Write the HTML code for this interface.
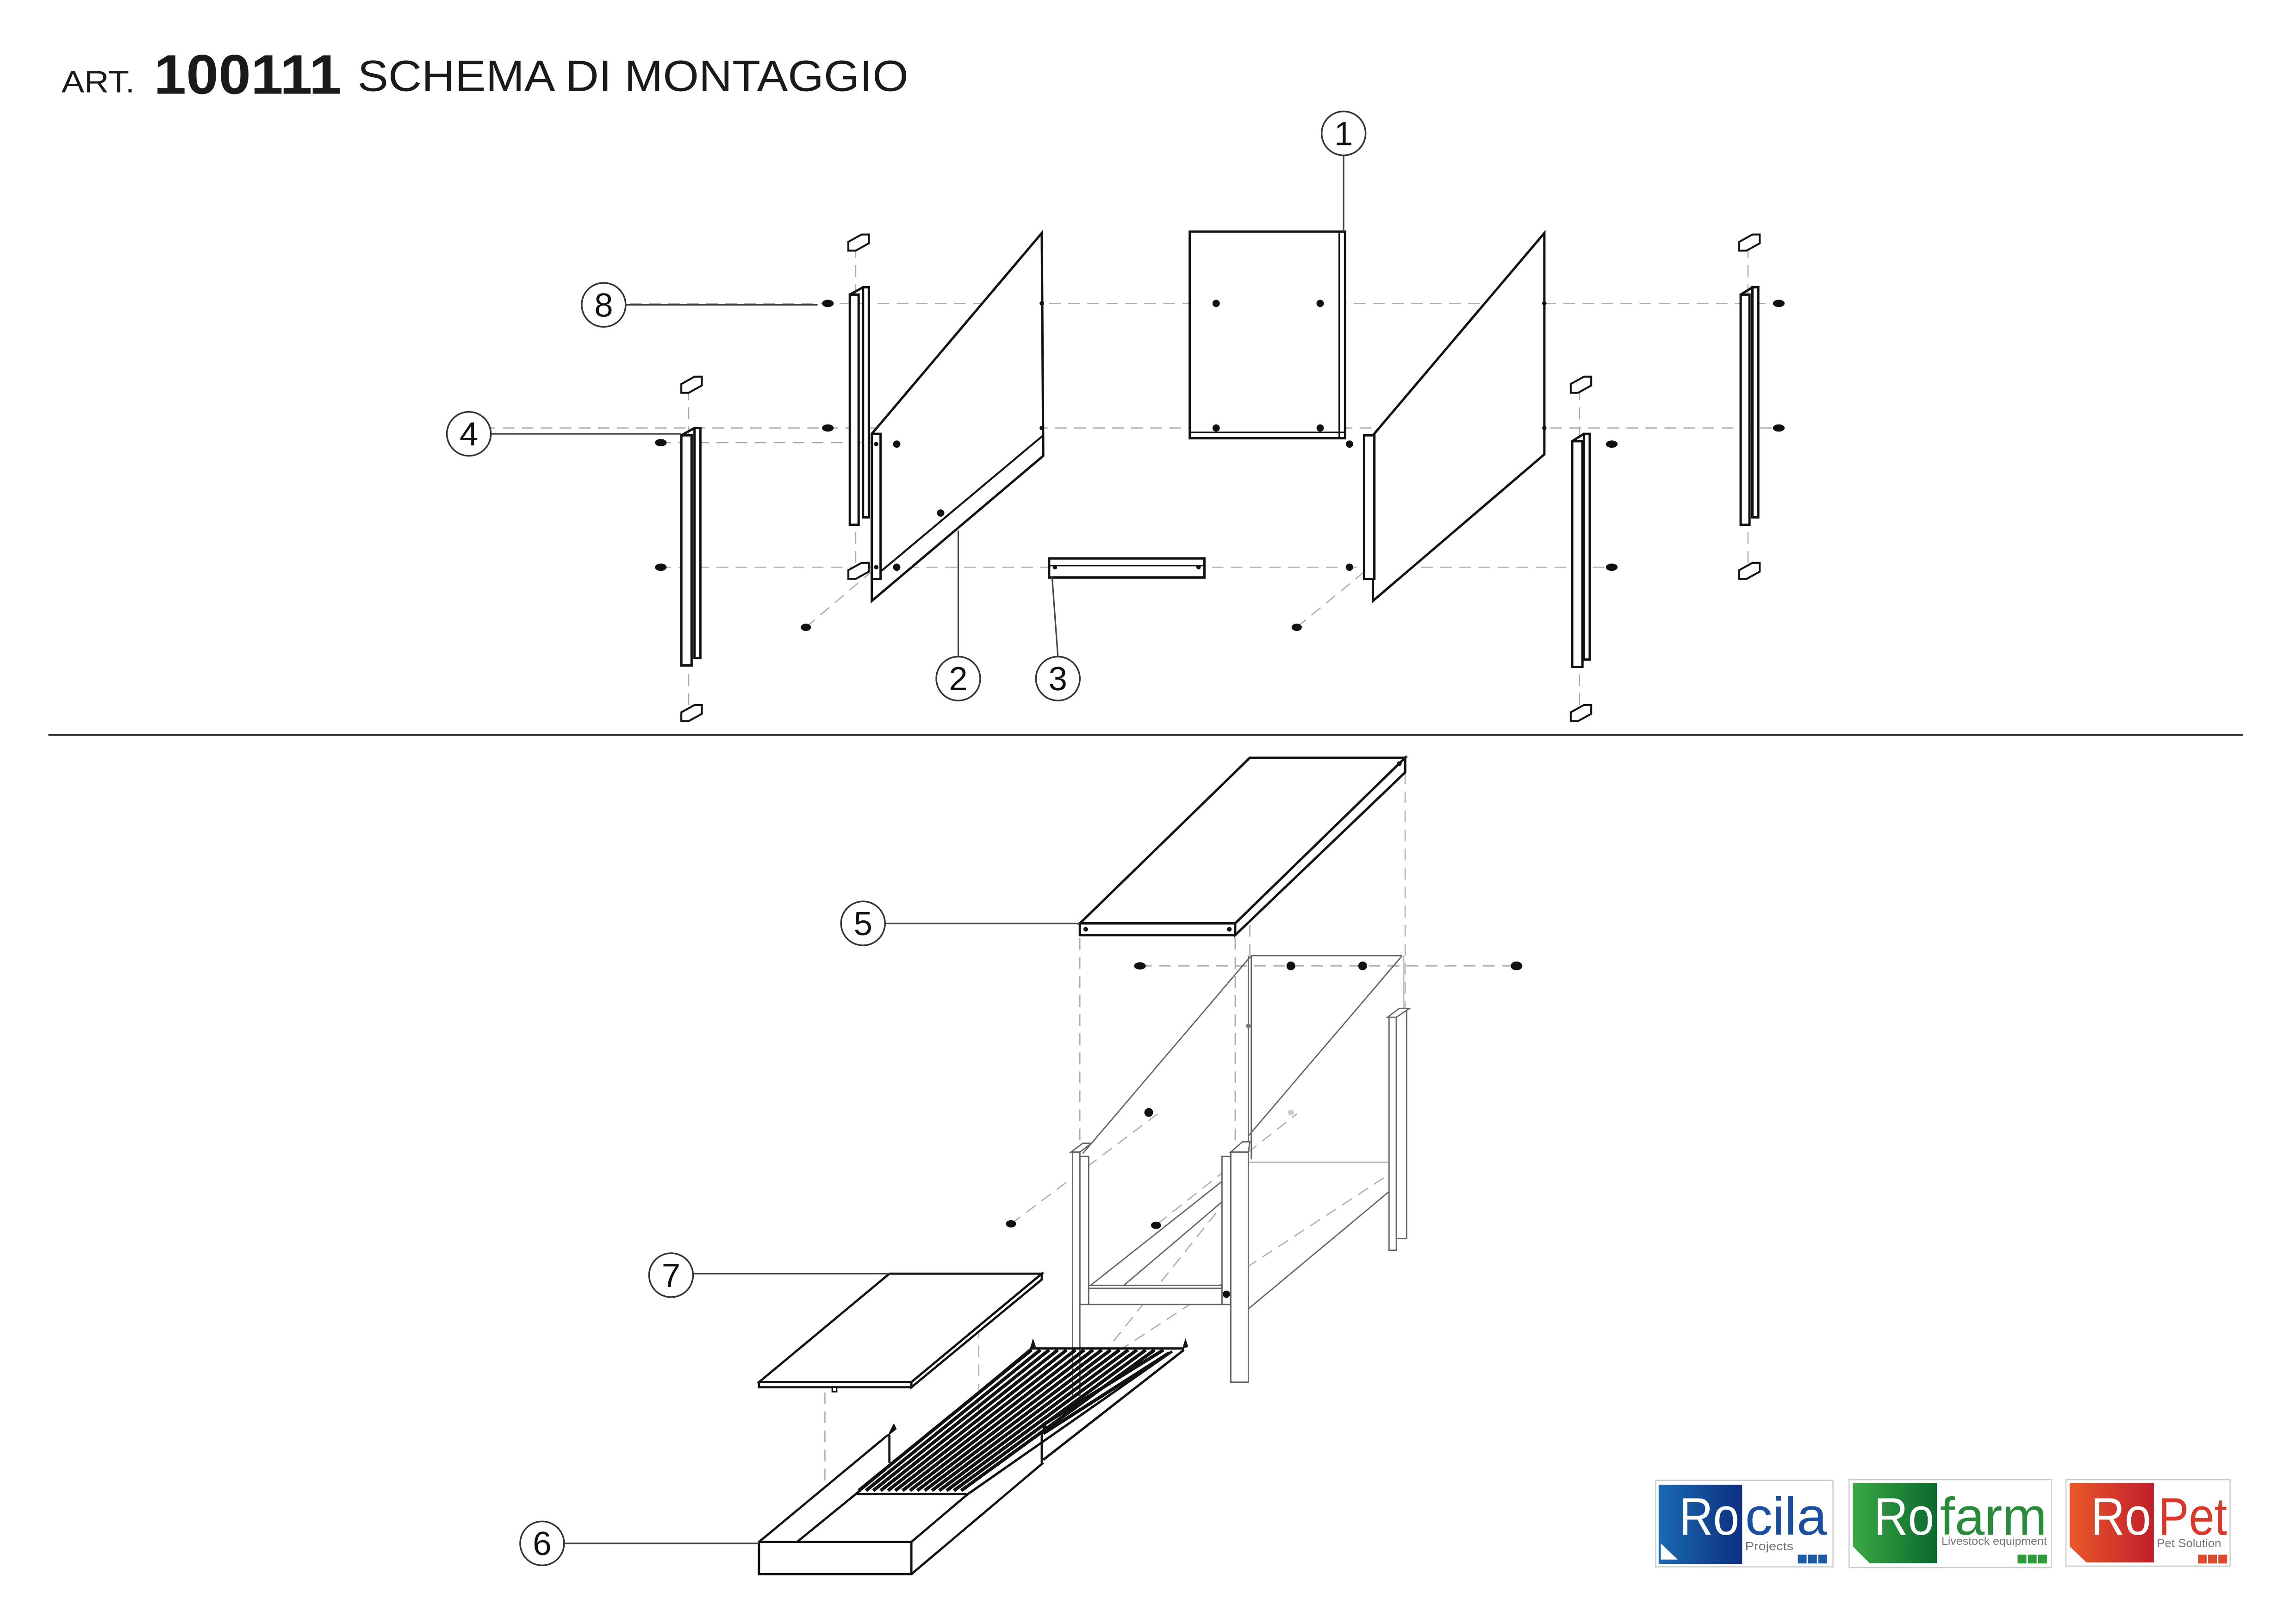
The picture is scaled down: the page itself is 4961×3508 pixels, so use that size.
<!DOCTYPE html>
<html><head><meta charset="utf-8"><style>
html,body{margin:0;padding:0;background:#fff;}
svg{display:block;}
text{font-family:"Liberation Sans",sans-serif;}
</style></head><body>
<svg width="4961" height="3508" viewBox="0 0 1567 1108" preserveAspectRatio="none" xmlns="http://www.w3.org/2000/svg">
<rect width="1567" height="1108" fill="#fff"/>
<!-- title -->
<text x="42" y="63" font-size="21" fill="#1a1a1a" textLength="50" lengthAdjust="spacingAndGlyphs">ART.</text>
<text x="105" y="64" font-size="38" font-weight="bold" fill="#1a1a1a" textLength="128" lengthAdjust="spacingAndGlyphs">100111</text>
<text x="244" y="62" font-size="30" fill="#1a1a1a" textLength="376" lengthAdjust="spacingAndGlyphs">SCHEMA DI MONTAGGIO</text>
<line x1="33" y1="501.5" x2="1531" y2="501.5" stroke="#333" stroke-width="1.2"/>

<g fill="none" stroke="#aaa" stroke-width="0.8" stroke-dasharray="8,5">
<line x1="430" y1="207" x2="1210" y2="207"/>
<line x1="330" y1="292" x2="1210" y2="292"/>
<line x1="450" y1="302" x2="600" y2="302"/>
<line x1="450" y1="387" x2="1100" y2="387"/>
<line x1="470" y1="265" x2="470" y2="485"/>
<line x1="584" y1="168" x2="584" y2="390"/>
<line x1="1078" y1="265" x2="1078" y2="485"/>
<line x1="1193" y1="168" x2="1193" y2="390"/>
<line x1="550" y1="428" x2="642" y2="350"/>
<line x1="885" y1="428" x2="980" y2="350"/>
<line x1="737" y1="640" x2="737" y2="790"/>
<line x1="843" y1="640" x2="843" y2="780"/>
<line x1="959" y1="527" x2="959" y2="690"/>
<line x1="853" y1="527" x2="853" y2="652"/>
<line x1="778" y1="659" x2="1035" y2="659"/>
<line x1="563" y1="950" x2="563" y2="1015"/>
<line x1="668" y1="905" x2="668" y2="1000"/>
<line x1="690" y1="835" x2="790" y2="760"/>
<line x1="790" y1="835" x2="885" y2="760"/>
<line x1="720" y1="950" x2="950" y2="800"/>
<line x1="760" y1="915" x2="852" y2="800"/>
</g>

<g fill="#fff" stroke="#111" stroke-width="1.6">
<rect x="812" y="158" width="106" height="141"/>
<line x1="914" y1="158" x2="914" y2="299" stroke-width="1"/>
<line x1="812" y1="295" x2="918" y2="295" stroke-width="1"/>
<polygon points="595,296 711,159 712,311 595,410"/>
<line x1="601" y1="390" x2="712" y2="297" stroke-width="1.3"/>
<rect x="595" y="296" width="6" height="99"/>
<polygon points="937,297 1054,159 1054,310 937,410"/>
<rect x="931" y="297" width="7" height="98"/>
<rect x="580" y="201" width="6" height="157"/><rect x="589" y="196" width="4" height="157"/>
<line x1="580" y1="201" x2="589" y2="196"/>
<rect x="465" y="297" width="7" height="157"/><rect x="474" y="292" width="4" height="157"/>
<line x1="465" y1="297" x2="474" y2="292"/>
<rect x="1073" y="301" width="7" height="154"/><rect x="1081" y="296" width="4" height="154"/>
<line x1="1073" y1="301" x2="1081" y2="296"/>
<rect x="1188" y="201" width="6" height="157"/><rect x="1196" y="196" width="4" height="157"/>
<line x1="1188" y1="201" x2="1196" y2="196"/>
<rect x="716" y="381" width="106" height="13"/>
<line x1="716" y1="386" x2="822" y2="386" stroke-width="0.8"/>
<g stroke-width="1.3">
<polygon points="579,165 588,160 593,160 593,166 584,171 579,171"/>
<polygon points="465,262 474,257 479,257 479,263 470,268 465,268"/>
<polygon points="579,389 588,384 593,384 593,390 584,395 579,395"/>
<polygon points="465,486 474,481 479,481 479,487 470,492 465,492"/>
<polygon points="1072,262 1081,257 1086,257 1086,263 1077,268 1072,268"/>
<polygon points="1072,486 1081,481 1086,481 1086,487 1077,492 1072,492"/>
<polygon points="1187,165 1196,160 1201,160 1201,166 1192,171 1187,171"/>
<polygon points="1187,389 1196,384 1201,384 1201,390 1192,395 1187,395"/>
</g>
</g>
<g fill="#111">
<ellipse cx="565" cy="207" rx="4" ry="2.5"/><ellipse cx="565" cy="292" rx="4" ry="2.5"/>
<ellipse cx="451" cy="302" rx="4" ry="2.5"/><ellipse cx="451" cy="387" rx="4" ry="2.5"/>
<ellipse cx="612" cy="303" rx="2.5" ry="2.5"/><ellipse cx="612" cy="387" rx="2.5" ry="2.5"/>
<ellipse cx="598" cy="303" rx="1.5" ry="1.5"/><ellipse cx="598" cy="387" rx="1.5" ry="1.5"/>
<ellipse cx="830" cy="207" rx="2.5" ry="2.5"/><ellipse cx="901" cy="207" rx="2.5" ry="2.5"/>
<ellipse cx="830" cy="292" rx="2.5" ry="2.5"/><ellipse cx="901" cy="292" rx="2.5" ry="2.5"/>
<ellipse cx="711" cy="207" rx="1.5" ry="1.5"/><ellipse cx="711" cy="292" rx="1.5" ry="1.5"/>
<ellipse cx="1054" cy="207" rx="1.5" ry="1.5"/><ellipse cx="1054" cy="292" rx="1.5" ry="1.5"/>
<ellipse cx="921" cy="303" rx="2.5" ry="2.5"/><ellipse cx="921" cy="387" rx="2.5" ry="2.5"/>
<ellipse cx="1100" cy="303" rx="4" ry="2.5"/><ellipse cx="1100" cy="387" rx="4" ry="2.5"/>
<ellipse cx="1214" cy="207" rx="4" ry="2.5"/><ellipse cx="1214" cy="292" rx="4" ry="2.5"/>
<ellipse cx="550" cy="428" rx="3.5" ry="2.5"/><ellipse cx="885" cy="428" rx="3.5" ry="2.5"/>
<ellipse cx="642" cy="350" rx="2.5" ry="2.5"/>
<ellipse cx="720" cy="387" rx="1.5" ry="1.5"/><ellipse cx="818" cy="387" rx="1.5" ry="1.5"/>
</g>

<g fill="#fff" stroke="#111" stroke-width="1.6">
<polygon points="737,630 853,517 959,517 843,630"/>
<rect x="737" y="630" width="106" height="8"/>
<polygon points="843,630 959,517 959,527 843,638"/>
</g>
<g fill="#111"><circle cx="741" cy="634" r="1.6"/><circle cx="839" cy="634" r="1.6"/><circle cx="955" cy="521" r="1.6"/></g>

<g fill="#fff" stroke="#666" stroke-width="0.9">
<line x1="854" y1="652" x2="957" y2="652"/>
<line x1="854" y1="652" x2="739" y2="787"/>
<line x1="957" y1="652" x2="852" y2="775"/>
<line x1="852" y1="652" x2="852" y2="791"/>
<line x1="854" y1="652" x2="854" y2="791"/>
<line x1="852" y1="793" x2="948" y2="793" stroke="#bbb"/>
<line x1="852" y1="893" x2="948" y2="813"/>
<line x1="958" y1="652" x2="958" y2="792" stroke="#bbb"/>
<rect x="948" y="694" width="5" height="159"/>
<rect x="953" y="690" width="7" height="155"/>
<polygon points="947,694 955,688 962,688 953,694"/>
<line x1="743" y1="878" x2="834" y2="806"/>
<line x1="767" y1="877" x2="834" y2="820"/>
<rect x="737" y="789" width="6" height="101"/>
<rect x="732" y="786" width="5" height="166"/>
<polygon points="731,786 739,780 745,780 737,786"/>
<rect x="834" y="789" width="6" height="101"/>
<rect x="840" y="786" width="12" height="157"/>
<polygon points="840,786 848,779 853,779 852,786"/>
<rect x="743" y="877" width="91" height="13"/>
<line x1="743" y1="879" x2="834" y2="879"/>
</g>
<g fill="#111">
<ellipse cx="778" cy="659" rx="4" ry="2.5"/><circle cx="881" cy="659" r="3"/>
<circle cx="930" cy="659" r="3"/><ellipse cx="1035" cy="659" rx="4" ry="3"/>
<circle cx="784" cy="759" r="3"/><ellipse cx="690" cy="835" rx="3.5" ry="2.5"/>
<ellipse cx="789" cy="836" rx="3.5" ry="2.5"/><circle cx="837" cy="883" r="2.5"/>
<circle cx="852" cy="700" r="1.6" fill="#777"/>
</g>
<circle cx="881" cy="759" r="2" fill="#ccc"/>

<g fill="#fff" stroke="#111" stroke-width="1.5">
<polygon points="518,943 607,869 711,869 622,943"/>
<polygon points="518,943 622,943 622,946.5 518,946.5"/>
<polygon points="622,943 711,869 711,873 622,946.5"/>
<rect x="568" y="946.5" width="3" height="3" stroke-width="1"/>
</g>

<!-- tray 6 -->
<polygon points="518,1052 606,979 712,976 712,998 622,1074 518,1074" fill="#fff"/>
<g fill="none" stroke="#111" stroke-width="1.5">
<line x1="518" y1="1052" x2="606" y2="979"/>
<rect x="518" y="1052" width="104" height="22" fill="#fff"/>
<line x1="622" y1="1074" x2="712" y2="998"/>
<polyline points="544,1052 584,1019.4 660.5,1019.4 622,1052"/>
<line x1="607" y1="979" x2="607" y2="998"/>
<line x1="711" y1="976" x2="711" y2="998"/>
</g>
<path d="M606,979 L610,971 L612,975 L607,979 Z M711,977 L713,970 L715,975 Z" fill="#111"/>
<g stroke="#111" stroke-width="2.3">
<line x1="586" y1="1017" x2="704" y2="921"/>
<line x1="591" y1="1017" x2="710" y2="921"/>
<line x1="596" y1="1017" x2="716" y2="921"/>
<line x1="601" y1="1017" x2="722" y2="921"/>
<line x1="606" y1="1017" x2="728" y2="921"/>
<line x1="611" y1="1017" x2="734" y2="921"/>
<line x1="616" y1="1017" x2="740" y2="921"/>
<line x1="621" y1="1017" x2="746" y2="921"/>
<line x1="626" y1="1017" x2="752" y2="921"/>
<line x1="631" y1="1017" x2="758" y2="921"/>
<line x1="636" y1="1017" x2="764" y2="921"/>
<line x1="641" y1="1017" x2="770" y2="921"/>
<line x1="646" y1="1017" x2="776" y2="921"/>
<line x1="651" y1="1017" x2="782" y2="921"/>
<line x1="656" y1="1017" x2="788" y2="921"/>
<line x1="712" y1="972" x2="794" y2="921"/>
<line x1="712" y1="978" x2="798" y2="923"/>
</g>
<g stroke="#111" stroke-width="1.6" fill="none">
<line x1="703" y1="920" x2="808" y2="920"/>
<line x1="660.5" y1="1019.4" x2="800" y2="922"/>
<line x1="712" y1="996" x2="808" y2="921"/>
<line x1="584" y1="1019.4" x2="704" y2="920"/>
</g>
<path d="M703,920 L705,913 L707,919 Z M807,920 L809,913 L811,919 Z" fill="#111"/>

<g fill="none" stroke="#444" stroke-width="1">
<line x1="917" y1="106" x2="917" y2="158"/>
<line x1="427" y1="208" x2="558" y2="208"/>
<line x1="335" y1="296" x2="465" y2="296"/>
<line x1="654" y1="448" x2="654" y2="362"/>
<line x1="722" y1="448" x2="718" y2="393"/>
<line x1="604" y1="630" x2="737" y2="630"/>
<line x1="473" y1="869" x2="607" y2="869"/>
<line x1="385" y1="1053" x2="518" y2="1053"/>
</g>
<g fill="#fff" stroke="#333" stroke-width="1.1">
<circle cx="917" cy="91" r="15"/><circle cx="412" cy="208" r="15"/>
<circle cx="320" cy="296" r="15"/><circle cx="654" cy="463" r="15"/>
<circle cx="722" cy="463" r="15"/><circle cx="589" cy="630" r="15"/>
<circle cx="458" cy="870" r="15"/><circle cx="370" cy="1053" r="15"/>
</g>
<g font-size="23" text-anchor="middle" fill="#111">
<text x="917" y="99">1</text><text x="412" y="216">8</text>
<text x="320" y="304">4</text><text x="654" y="471">2</text>
<text x="722" y="471">3</text><text x="589" y="638">5</text>
<text x="458" y="878">7</text><text x="370" y="1061">6</text>
</g>

<defs>
<linearGradient id="gb" x1="0" y1="0" x2="1" y2="0"><stop offset="0" stop-color="#1a6ab3"/><stop offset="1" stop-color="#0e2f7f"/></linearGradient>
<linearGradient id="gg" x1="0" y1="0" x2="1" y2="0"><stop offset="0" stop-color="#3aa843"/><stop offset="1" stop-color="#0b6a2e"/></linearGradient>
<linearGradient id="gr" x1="0" y1="0" x2="1" y2="0"><stop offset="0" stop-color="#e9582a"/><stop offset="1" stop-color="#c01f2a"/></linearGradient>
</defs>
<g stroke="#ccc" stroke-width="0.8" fill="#fff">
<rect x="1130" y="1010" width="121" height="59"/>
<rect x="1262" y="1009.5" width="138" height="60"/>
<rect x="1410" y="1009.5" width="112" height="59"/>
</g>
<rect x="1132" y="1013" width="57" height="54" fill="url(#gb)"/>
<polygon points="1133.5,1053 1133.5,1064 1145,1064" fill="#fff"/>
<polygon points="1264.5,1012 1322,1012 1322,1066.5 1276,1066.5 1264.5,1055" fill="url(#gg)"/>
<polygon points="1412.5,1012 1470,1012 1470,1066 1424,1066 1412.5,1055" fill="url(#gr)"/>
<g font-size="36" lengthAdjust="spacingAndGlyphs">
<text x="1146" y="1047" fill="#fff" textLength="41" lengthAdjust="spacingAndGlyphs">Ro</text>
<text x="1191" y="1047" fill="#1a4f9f" textLength="56" lengthAdjust="spacingAndGlyphs">cila</text>
<text x="1279" y="1047" fill="#fff" textLength="41" lengthAdjust="spacingAndGlyphs">Ro</text>
<text x="1324" y="1047" fill="#2a8a3c" textLength="73" lengthAdjust="spacingAndGlyphs">farm</text>
<text x="1427" y="1047" fill="#fff" textLength="41" lengthAdjust="spacingAndGlyphs">Ro</text>
<text x="1473" y="1047" fill="#d9382a" textLength="47" lengthAdjust="spacingAndGlyphs">Pet</text>
</g>
<text x="1191" y="1057.6" font-size="8" fill="#777" textLength="33" lengthAdjust="spacingAndGlyphs">Projects</text>
<g fill="#1a5aa8"><rect x="1227" y="1060.7" width="6" height="6"/><rect x="1234" y="1060.7" width="6" height="6"/><rect x="1241" y="1060.7" width="6" height="6"/></g>
<text x="1325" y="1054" font-size="7.6" fill="#777" textLength="72" lengthAdjust="spacingAndGlyphs">Livestock equipment</text>
<g fill="#2e9a3a"><rect x="1377" y="1060.7" width="6" height="6"/><rect x="1384" y="1060.7" width="6" height="6"/><rect x="1391" y="1060.7" width="6" height="6"/></g>
<text x="1472" y="1055.5" font-size="8" fill="#777" textLength="44" lengthAdjust="spacingAndGlyphs">Pet Solution</text>
<g fill="#e04a2a"><rect x="1500" y="1060.7" width="6" height="6"/><rect x="1507" y="1060.7" width="6" height="6"/><rect x="1514" y="1060.7" width="6" height="6"/></g>
</svg>
</body></html>
